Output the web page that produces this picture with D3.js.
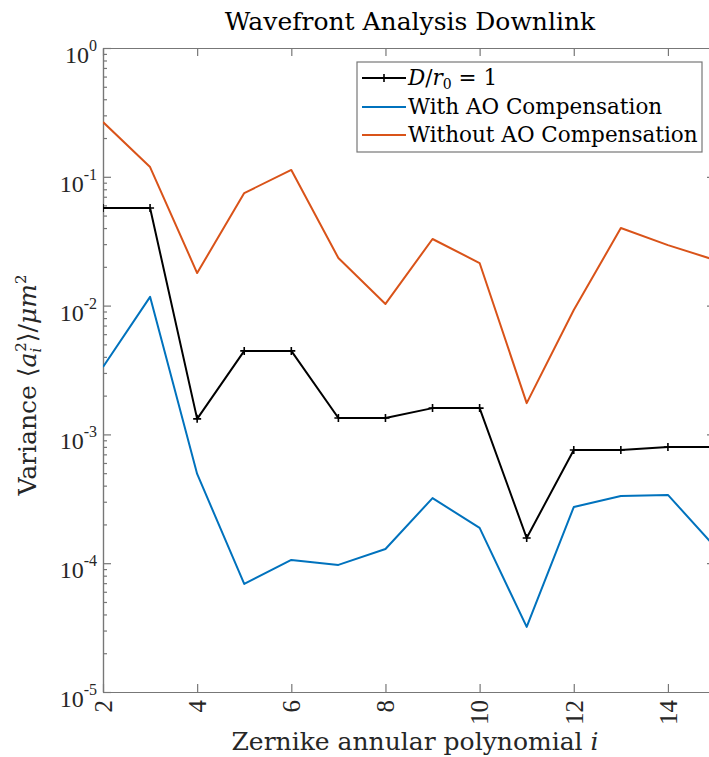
<!DOCTYPE html>
<html>
<head>
<meta charset="utf-8">
<script src="https://cdn.jsdelivr.net/npm/d3@7"></script>
<style>
  body { margin: 0; background: #fff; }
  svg { display: block; }
</style>
</head>
<body>
<svg id="chart"></svg>
<script>
// Zernike index and variances
const zernikeIndex = [2, 3, 4, 5, 6, 7, 8, 9, 10, 11, 12, 13, 14, 15];
const varD1 = [0.0573, 0.0573, 0.00132, 0.00445, 0.00445, 0.00134, 0.00134, 0.0016, 0.0016, 0.000157, 0.000757, 0.000757, 0.000798, 0.000798];
const varWithAO = [0.00334, 0.0117, 0.000493, 0.000069, 0.000106, 0.000097, 0.000129, 0.00032, 0.000188, 0.000032, 0.000273, 0.000333, 0.000339, 0.000134];
const varWithoutAO = [0.266, 0.119, 0.0179, 0.0748, 0.113, 0.0234, 0.0103, 0.0329, 0.0214, 0.00175, 0.00924, 0.04, 0.0295, 0.0226];
const xTickValues = [2, 4, 6, 8, 10, 12, 14];
const yDecades = [-5, -4, -3, -2, -1, 0];
const legendNames = ["D/r0 = 1", "With AO Compensation", "Without AO Compensation"];
const lineColors = ["#000000", "#0072BD", "#D95319"];

const W = 709, H = 757;
const plot = {left: 103, right: 715, top: 48, bottom: 692};
const axisColor = "#777";
const wordFont = "DejaVu Serif";
const numFont = "Liberation Serif";

const svg = d3.select("#chart").attr("width", W).attr("height", H);
svg.append("rect").attr("width", W).attr("height", H).attr("fill", "#fff");

const x = d3.scaleLinear().domain([2, 15]).range([plot.left, plot.right]);
const y = d3.scaleLog().domain([1e-5, 1]).range([plot.bottom, plot.top]);

const majorY = yDecades.map(d => Math.pow(10, d));
const minorY = [];
yDecades.slice(0, -1).forEach(d => {
    for (let k = 2; k <= 9; k++) minorY.push(k * Math.pow(10, d));
});

// box axes, ticks pointing inward
function styleAxis(g) {
    g.selectAll("path, line").attr("stroke", axisColor).attr("stroke-width", 1.2);
    g.selectAll("text").remove();
}

svg.append("g").attr("transform", `translate(0,${plot.bottom})`)
    .call(d3.axisBottom(x).tickValues(xTickValues).tickSize(-8).tickSizeOuter(0))
    .call(styleAxis);
svg.append("g").attr("transform", `translate(0,${plot.top})`)
    .call(d3.axisTop(x).tickValues(xTickValues).tickSize(-8).tickSizeOuter(0))
    .call(styleAxis);
svg.append("g").attr("transform", `translate(${plot.left},0)`)
    .call(d3.axisLeft(y).tickValues(majorY).tickSize(-8).tickSizeOuter(0))
    .call(styleAxis);
svg.append("g").attr("transform", `translate(${plot.left},0)`)
    .call(d3.axisLeft(y).tickValues(minorY).tickSize(-4).tickSizeOuter(0))
    .call(styleAxis);
svg.append("g").attr("transform", `translate(${plot.right},0)`)
    .call(d3.axisRight(y).tickValues(majorY).tickSize(-8).tickSizeOuter(0))
    .call(styleAxis);
svg.append("g").attr("transform", `translate(${plot.right},0)`)
    .call(d3.axisRight(y).tickValues(minorY).tickSize(-4).tickSizeOuter(0))
    .call(styleAxis);

// y tick labels 10^n
const yLab = svg.append("g").selectAll("text")
    .data(yDecades)
    .join("text")
    .attr("x", plot.left - 6)
    .attr("y", d => y(Math.pow(10, d)) + 15)
    .attr("text-anchor", "end")
    .attr("font-family", numFont)
    .attr("font-size", 24)
    .attr("fill", "#262626");
yLab.append("tspan").text("10");
yLab.append("tspan").attr("font-size", 16).attr("dy", -12).text(d => String(d));

// x tick labels, rotated
svg.append("g").selectAll("text")
    .data(xTickValues)
    .join("text")
    .attr("transform", d => `translate(${x(d)},${plot.bottom + 8}) rotate(-90)`)
    .attr("text-anchor", "end")
    .attr("dy", "0.35em")
    .attr("font-family", numFont)
    .attr("font-size", 25)
    .attr("fill", "#262626")
    .text(d => d);

// series
const series = [varD1, varWithAO, varWithoutAO];
const line = d3.line()
    .x((d, i) => x(zernikeIndex[i]))
    .y(d => y(d));

svg.append("defs").append("clipPath").attr("id", "clip")
    .append("rect")
    .attr("x", plot.left).attr("y", plot.top)
    .attr("width", plot.right - plot.left).attr("height", plot.bottom - plot.top);

const lines = svg.append("g").attr("clip-path", "url(#clip)");
[2, 1, 0].forEach(k => {
    lines.append("path")
        .datum(series[k])
        .attr("d", line)
        .attr("fill", "none")
        .attr("stroke", lineColors[k])
        .attr("stroke-width", 2)
        .attr("stroke-linejoin", "round");
});

function plusMark(sel) {
    sel.attr("d", "M-4,0H4M0,-4V4")
        .attr("stroke", "#000")
        .attr("stroke-width", 1.6)
        .attr("fill", "none");
}
lines.selectAll(".mark")
    .data(varD1)
    .join("path")
    .attr("class", "mark")
    .attr("transform", (d, i) => `translate(${x(zernikeIndex[i])},${y(d)})`)
    .call(plusMark);

// title
svg.append("text")
    .attr("x", 410).attr("y", 30)
    .attr("text-anchor", "middle")
    .attr("font-family", wordFont)
    .attr("font-size", 25)
    .attr("fill", "#000")
    .text("Wavefront Analysis Downlink");

// x label
const xl = svg.append("text")
    .attr("x", 415).attr("y", 750)
    .attr("text-anchor", "middle")
    .attr("font-family", wordFont)
    .attr("font-size", 25)
    .attr("fill", "#262626");
xl.append("tspan").text("Zernike annular polynomial ");
xl.append("tspan").attr("font-style", "italic").text("i");

// y label
const yl = svg.append("text")
    .attr("transform", `translate(36,385) rotate(-90)`)
    .attr("text-anchor", "middle")
    .attr("font-family", wordFont)
    .attr("font-size", 25)
    .attr("fill", "#262626");
yl.append("tspan").text("Variance \u27E8");
yl.append("tspan").attr("font-style", "italic").text("a");
yl.append("tspan").attr("font-size", 15).attr("font-style", "italic").attr("dy", 5).text("i");
yl.append("tspan").attr("font-size", 15).attr("dx", -4).attr("dy", -15).text("2");
yl.append("tspan").attr("dy", 10).text("\u27E9/");
yl.append("tspan").attr("font-style", "italic").text("\u03BCm");
yl.append("tspan").attr("font-size", 15).attr("dy", -10).text("2");

// legend
const leg = svg.append("g");
leg.append("rect")
    .attr("x", 357).attr("y", 62)
    .attr("width", 345).attr("height", 90)
    .attr("fill", "#fff")
    .attr("stroke", axisColor)
    .attr("stroke-width", 1.2);
const rowY = [78, 107, 135];
legendNames.forEach((name, k) => {
    leg.append("line")
        .attr("x1", 362).attr("x2", 406)
        .attr("y1", rowY[k]).attr("y2", rowY[k])
        .attr("stroke", lineColors[k])
        .attr("stroke-width", 2);
    const t = leg.append("text")
        .attr("x", 408).attr("y", rowY[k] + 7)
        .attr("font-family", wordFont)
        .attr("font-size", 21.5)
        .attr("fill", "#000");
    if (k === 0) {
        t.append("tspan").attr("font-style", "italic").text("D");
        t.append("tspan").text("/");
        t.append("tspan").attr("font-style", "italic").text("r");
        t.append("tspan").attr("font-size", 14).attr("dy", 4).text("0");
        t.append("tspan").attr("dy", -4).text(" = 1");
    } else {
        t.text(name);
    }
});
leg.append("path")
    .attr("transform", `translate(384,${rowY[0]})`)
    .call(plusMark);
</script>
</body>
</html>
